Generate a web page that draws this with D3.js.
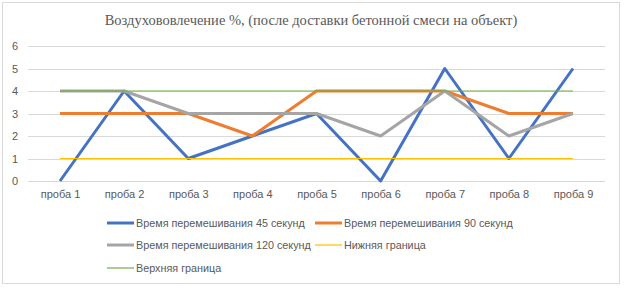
<!DOCTYPE html>
<html>
<head>
<meta charset="utf-8">
<script src="https://d3js.org/d3.v7.min.js"></script>
<style>
  body { margin: 0; background: #fff; }
  .title { font-family: "Liberation Serif", "Times New Roman", serif; font-size: 14.5px; fill: #595959; }
  .tick text, .lbl { font-family: "Liberation Sans", Arial, sans-serif; font-size: 11px; fill: #595959; }
  .lbl { font-size: 10.8px; }
</style>
</head>
<body>
<script>
// data
var categories = ["проба 1","проба 2","проба 3","проба 4","проба 5","проба 6","проба 7","проба 8","проба 9"];
var mix45  = [0, 4, 1, 2, 3, 0, 5, 1, 5];
var mix90  = [3, 3, 3, 2, 4, 4, 4, 3, 3];
var mix120 = [4, 4, 3, 3, 3, 2, 4, 2, 3];
var lowerBound = [1, 1, 1, 1, 1, 1, 1, 1, 1];
var upperBound = [4, 4, 4, 4, 4, 4, 4, 4, 4];
var yTicks = [0, 1, 2, 3, 4, 5, 6];
var titleText = "Воздухововлечение %, (после доставки бетонной смеси на объект)";

var series = [
  { name: "Время перемешивания 45 секунд",  values: mix45,  color: "#4472C4", w: 3 },
  { name: "Время перемешивания 90 секунд",  values: mix90,  color: "#ED7D31", w: 3 },
  { name: "Время перемешивания 120 секунд", values: mix120, color: "#A5A5A5", w: 3 },
  { name: "Нижняя граница", values: lowerBound, color: "#FFC000", w: 1.2 },
  { name: "Верхняя граница", values: upperBound, color: "#70AD47", w: 1.2 }
];

var W = 624, H = 290;
var svg = d3.select("body").append("svg").attr("width", W).attr("height", H);

// chart frame
svg.append("rect").attr("x", 2.5).attr("y", 2.5).attr("width", 617).attr("height", 281)
  .attr("fill", "#fff").attr("stroke", "#d9d9d9").attr("stroke-width", 1);

svg.append("text").attr("class", "title").attr("x", 311).attr("y", 25)
  .attr("text-anchor", "middle").text(titleText);

var x = d3.scalePoint().domain(categories).range([60, 573]);
var y = d3.scaleLinear().domain([0, 6]).range([181, 46]);

// gridlines
svg.append("g").selectAll("line").data(yTicks).join("line")
  .attr("x1", 28).attr("x2", 605)
  .attr("y1", function (d) { return Math.round(y(d)) + 0.5; })
  .attr("y2", function (d) { return Math.round(y(d)) + 0.5; })
  .attr("stroke", "#d9d9d9").attr("stroke-width", 1);

// y axis
var yAxis = svg.append("g").attr("transform", "translate(18,0)")
  .call(d3.axisLeft(y).tickValues(yTicks).tickFormat(d3.format("d")).tickSize(0).tickPadding(0));
yAxis.select(".domain").remove();

// x axis
var xAxis = svg.append("g").attr("transform", "translate(0,190)")
  .call(d3.axisBottom(x).tickSize(0).tickPadding(0));
xAxis.select(".domain").remove();

var line = d3.line()
  .x(function (d, i) { return x(categories[i]); })
  .y(function (d) { return y(d); });

svg.append("g").selectAll("path").data(series).join("path")
  .attr("d", function (s) { return line(s.values); })
  .attr("fill", "none")
  .attr("stroke", function (s) { return s.color; })
  .attr("stroke-width", function (s) { return s.w; })
  .attr("stroke-linejoin", "round");

// legend
var legendPos = [[107, 223], [315, 223], [107, 245], [315, 245], [107, 268]];
var lg = svg.append("g").selectAll("g").data(series).join("g")
  .attr("transform", function (s, i) { return "translate(" + legendPos[i][0] + "," + legendPos[i][1] + ")"; });
lg.append("line").attr("x1", 0).attr("x2", 27).attr("y1", 0).attr("y2", 0)
  .attr("stroke", function (s) { return s.color; })
  .attr("stroke-width", function (s) { return s.w; });
lg.append("text").attr("class", "lbl").attr("x", 29).attr("y", 4)
  .text(function (s) { return s.name; });
</script>
</body>
</html>
